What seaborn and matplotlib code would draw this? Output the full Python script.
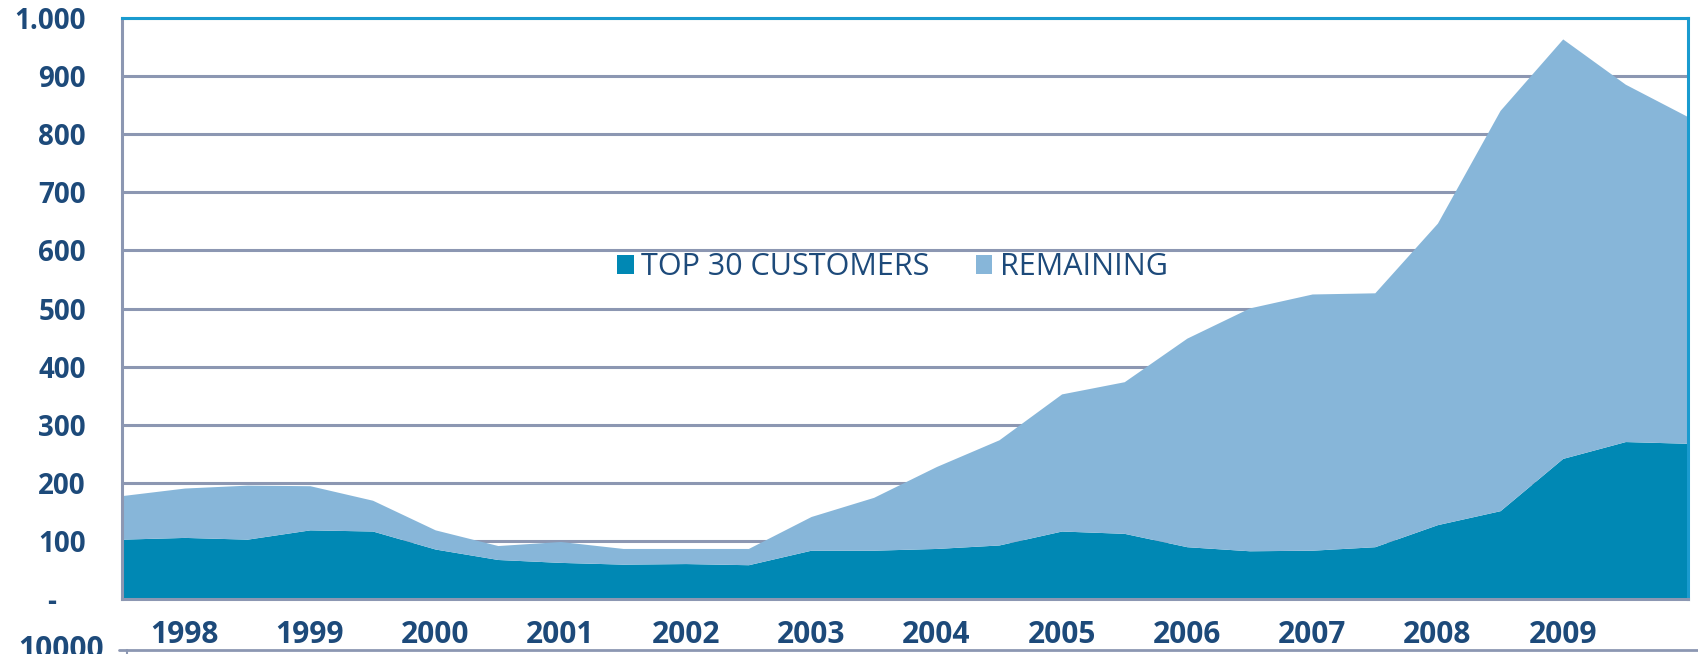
import numpy as np
import pandas as pd
import matplotlib
matplotlib.use("Agg")
import matplotlib.pyplot as plt
from matplotlib.patches import Patch
from matplotlib.lines import Line2D
import seaborn as sns

# ---- data (half-year steps, labels on every second point) ----
periods = list(range(26))
year_labels = ["1998", "1999", "2000", "2001", "2002", "2003",
               "2004", "2005", "2006", "2007", "2008", "2009"]
top30 = [103, 106, 103, 119, 117, 86, 68, 63, 60, 61, 59, 84, 84,
         87, 93, 117, 113, 90, 83, 84, 90, 128, 152, 242, 271, 268]
remaining = [75, 85, 93, 76, 53, 33, 24, 36, 27, 26, 28, 58, 91,
             141, 181, 236, 261, 359, 418, 441, 437, 519, 689, 722, 615, 562]
series_names = ["TOP 30 CUSTOMERS", "REMAINING"]
y_ticks = [0, 100, 200, 300, 400, 500, 600, 700, 800, 900, 1000]
y_tick_labels = ["-    ", "100", "200", "300", "400", "500",
                 "600", "700", "800", "900", "1.000"]

df = pd.DataFrame({"period": periods, series_names[0]: top30, series_names[1]: remaining})

# ---- style ----
sns.set_theme(style="white")
plt.rcParams["font.family"] = ["Open Sans", "DejaVu Sans"]

navy = "#1D4A7A"
grid_c = "#8C97B2"
c_top = "#0088B4"
c_rem = "#87B6D9"
edge_blue = "#1A9BCF"

W, H = 1698, 654
fig = plt.figure(figsize=(W / 100, H / 100), dpi=100)
ax = fig.add_axes([122 / W, 55 / H, 1566 / W, 581 / H])

ax.stackplot(df["period"], df[series_names[0]], df[series_names[1]],
             colors=[c_top, c_rem], linewidth=0, zorder=2)

ax.set_xlim(0, 25)
ax.set_ylim(0, 1000)
ax.set_yticks(y_ticks)
ax.set_yticklabels(y_tick_labels)
ax.set_xticks(periods[1::2][:len(year_labels)])
ax.set_xticklabels(year_labels)
ax.tick_params(axis="y", length=0, labelsize=20, labelcolor=navy, pad=26)
ax.tick_params(axis="x", length=0, labelsize=21.5, labelcolor=navy, pad=15)
for lab in ax.get_xticklabels() + ax.get_yticklabels():
    lab.set_fontweight("bold")

ax.yaxis.grid(True, color=grid_c, linewidth=2.2, zorder=1)
ax.xaxis.grid(False)
ax.set_axisbelow(True)

for side in ["left", "bottom"]:
    ax.spines[side].set_color(grid_c)
    ax.spines[side].set_linewidth(2.2)
for side in ["top", "right"]:
    ax.spines[side].set_color(edge_blue)
    ax.spines[side].set_linewidth(2.2)
for s in ax.spines.values():
    s.set_zorder(3)

handles = [Patch(facecolor=c_top, edgecolor="none"), Patch(facecolor=c_rem, edgecolor="none")]
ax.legend(handles, series_names, loc="center left", bbox_to_anchor=(0.316, 0.571),
          ncol=2, frameon=False, fontsize=22, labelcolor=navy,
          handlelength=0.55, handleheight=0.55, handletextpad=0.25,
          columnspacing=1.5, borderpad=0, borderaxespad=0)

# remnant of the next chart at the bottom edge
fig.add_artist(Line2D([119 / W, 1.0], [4 / H, 4 / H], color=grid_c, linewidth=2))
fig.add_artist(Line2D([127 / W, 127 / W], [0, 4 / H], color=grid_c, linewidth=1.5))
fig.text(18 / W, -4 / H, "10000", fontsize=21.5, fontweight="bold", color=navy,
         ha="left", va="baseline")

fig.savefig("out.png", dpi=100)
